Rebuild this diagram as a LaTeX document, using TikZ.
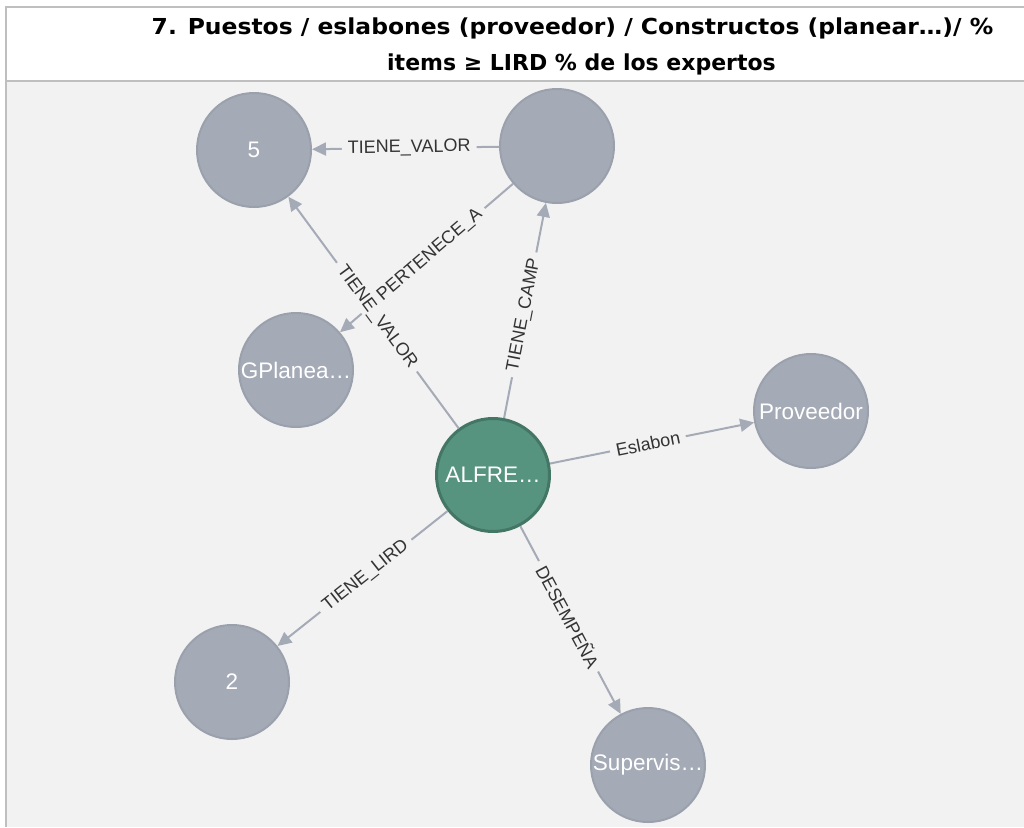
\documentclass[tikz,border=0pt]{standalone}
\usepackage{fontspec}
\setmainfont{Liberation Sans}
\newfontfamily\headfont{DejaVu Sans}
\usetikzlibrary{arrows.meta}

\definecolor{nodegray}{HTML}{A5ABB6}
\definecolor{nodegrayrim}{HTML}{9AA1AC}
\definecolor{nodegreen}{HTML}{569480}
\definecolor{nodegreenrim}{HTML}{447666}
\definecolor{canvasbg}{HTML}{F2F2F2}
\definecolor{framegray}{HTML}{BFBFBF}
\definecolor{reltext}{HTML}{333333}

\begin{document}
\begin{tikzpicture}[x=1pt,y=-1pt,
  headline/.style={anchor=base, inner sep=0pt, text=black,
    font=\headfont\bfseries\fontsize{22}{26}\selectfont},
  graynode/.style={circle, fill=nodegray, draw=nodegrayrim, line width=2pt,
    minimum size=114pt, inner sep=0pt, text=white,
    font=\fontsize{22.5}{24}\selectfont},
  greennode/.style={graynode, fill=nodegreen, draw=nodegreenrim, line width=3pt,
    minimum size=113pt},
  rel/.style={draw=nodegray, line width=2pt,
    -{Triangle[length=14pt,width=13pt]}},
  rellabel/.style={fill=canvasbg, inner xsep=6pt, inner ysep=2pt, text=reltext,
    font=\fontsize{18}{20}\selectfont, sloped, pos=0.48}
]
\useasboundingbox (0,0) rectangle (1024,827);

% title band and canvas
\fill[white] (0,0) rectangle (1024,827);
\fill[canvasbg] (7,81) rectangle (1024,827);
\draw[framegray, line width=2pt] (1024,7) -- (6,7) -- (6,827);
\draw[framegray, line width=2pt] (6,81) -- (1024,81);

\node[headline] (title1) at (572.5,34.5)
  {\scalebox{1.065}[1]{7. Puestos / eslabones (proveedor) / Constructos (planear…)/ \%}};
\node[headline] (title2) at (581.5,70)
  {items ≥ LIRD \% de los expertos};

% nodes
\node[graynode]  (five)  at (254,150) {5};
\node[graynode]  (camp)  at (557,146) {};
\node[graynode]  (gplan) at (296,370) {GPlanea…};
\node[greennode] (alf)   at (493,475) {ALFRE…};
\node[graynode]  (prov)  at (811,411) {Proveedor};
\node[graynode]  (two)   at (232,682) {2};
\node[graynode]  (sup)   at (648,765) {Supervis…};

% relationships
\draw[rel] (camp) -- node[rellabel] {TIENE\_VALOR} (five);
\draw[rel] (camp) -- node[rellabel] {PERTENECE\_A} (gplan);
\draw[rel] (alf)  -- node[rellabel] {TIENE\_VALOR} (five);
\draw[rel] (alf)  -- node[rellabel] {TIENE\_CAMP} (camp);
\draw[rel] (alf)  -- node[rellabel] {Eslabon} (prov);
\draw[rel] (alf)  -- node[rellabel] {TIENE\_LIRD} (two);
\draw[rel] (alf)  -- node[rellabel] {DESEMPEÑA} (sup);
\end{tikzpicture}
\end{document}
